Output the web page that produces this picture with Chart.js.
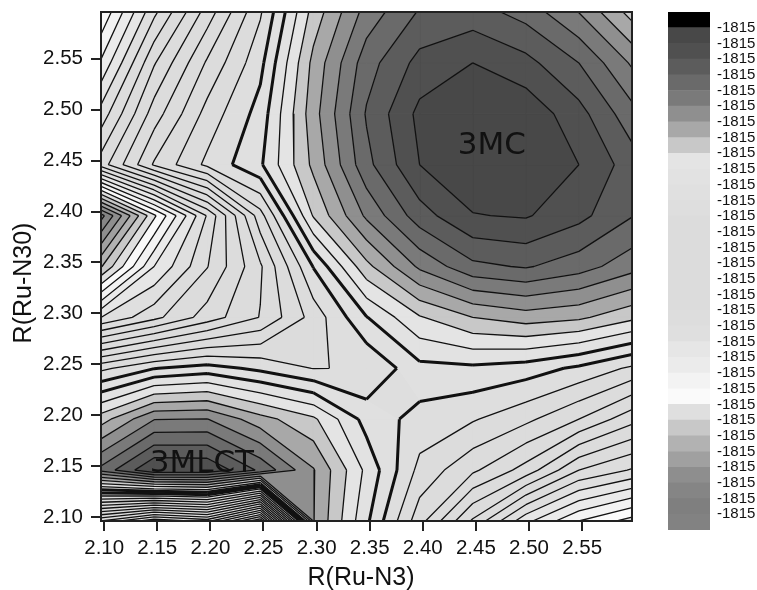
<!DOCTYPE html>
<html>
<head>
<meta charset="utf-8">
<title>R(Ru-N3) / R(Ru-N30) contour map</title>
<script src="https://cdn.jsdelivr.net/npm/chart.js@4/dist/chart.umd.min.js"></script>
<style>
	html, body { margin: 0; padding: 0; background: #fff; }
	#map { position: absolute; left: 0; top: 0; }
	#bar { position: absolute; left: 650px; top: 0; }
</style>
</head>
<body>
<canvas id="map" width="650" height="590"></canvas>
<canvas id="bar" width="107" height="590"></canvas>
<script>
// Grid nodes of the scan
const gridX = [2.097, 2.147, 2.197, 2.247, 2.297, 2.347, 2.397, 2.447, 2.497, 2.547, 2.597]
const gridY = [2.596, 2.546, 2.496, 2.446, 2.396, 2.346, 2.296, 2.246, 2.196, 2.146, 2.096]

// Height at each node, counted in contour levels (rows from the top of the plot)
const row0 = [8.1, 12.75, 16.45, 19.87, 24.4, 27.4, 29.1, 29.44, 28.6, 26.97, 24.6]
const row1 = [10.15, 14.9, 18.15, 20.7, 25.3, 28.56, 30.34, 31, 30.33, 29, 26.85]
const row2 = [12.4, 16.5, 19.37, 21.4, 25.6, 29.1, 31.27, 31.7, 31.7, 30.37, 28.35]
const row3 = [14.5, 18.13, 20.24, 21.85, 25.25, 28.7, 31, 31.8, 31.8, 31, 29.5]
const row4 = [1.6, 7.8, 13.1, 18.6, 24.1, 27.2, 29.55, 30.95, 31.1, 30.3, 29.05]
const row5 = [5.9, 11, 13.95, 16.85, 21.05, 24.7, 27.2, 28.75, 29.1, 28.45, 27.4]
const row6 = [12, 13.7, 15.46, 17.05, 19.4, 21.95, 23.9, 25, 25.5, 25.2, 24.25]
const row7 = [19.75, 20.96, 21.43, 20.75, 19.97, 20.07, 21.7, 21.8, 21.5, 20.8, 19.8]
const row8 = [24.55, 26.96, 27.03, 25.4, 24.2, 21.6, 20.63, 20.1, 19.25, 18, 16.35]
const row9 = [28.3, 30.98, 30.9, 28.8, 26.08, 22.75, 19.7, 18.2, 16.6, 14, 12.9]
const row10 = [12, 9.25, 10.4, 5, 26.05, 22.2, 18.4, 14.85, 11.3, 9, 7.6]
const heights = [row0, row1, row2, row3, row4, row5, row6, row7, row8, row9, row10]

// Band colours, lowest level first
const bandColors = [
	'#828282', '#7f7f7f', '#858585', '#8e8e8e', '#a0a0a0', '#b2b2b2', '#c8c8c8', '#dfdfdf',
	'#fafafa', '#f3f3f3', '#ebebeb', '#e6e6e6', '#dfdfdf', '#dddddd', '#dcdcdc', '#dcdcdc',
	'#dcdcdc', '#dcdcdc', '#dcdcdc', '#dcdcdc', '#dedede', '#e0e0e0', '#e2e2e2', '#e4e4e4',
	'#c8c8c8', '#a8a8a8', '#8f8f8f', '#7a7a7a', '#6a6a6a', '#5c5c5c', '#505050', '#484848',
	'#000000',
]
const thickLevels = [21, 22]
const colorbarLabels = Array(32).fill('-1815')

const xTicks = [2.10, 2.15, 2.20, 2.25, 2.30, 2.35, 2.40, 2.45, 2.50, 2.55]
const yTicks = [2.10, 2.15, 2.20, 2.25, 2.30, 2.35, 2.40, 2.45, 2.50, 2.55]

const notes = [
	{ text: '3MC', x: 2.465, y: 2.4645 },
	{ text: '3MLCT', x: 2.192, y: 2.152 },
]
const xTitle = 'R(Ru-N3)'
const yTitle = 'R(Ru-N30)'

const lerp = (a, b, t) => a + (b - a) * t

// Clip a polygon of {x, y, z} to z >= level (sign 1) or z <= level (sign -1)
function clip(poly, level, sign) {
	const out = []
	poly.forEach((p, i) => {
		const q = poly[(i + 1) % poly.length]
		const pIn = (p.z - level) * sign >= 0
		const qIn = (q.z - level) * sign >= 0
		if (pIn) out.push(p)
		if (pIn !== qIn) {
			const t = (level - p.z) / (q.z - p.z)
			out.push({ x: lerp(p.x, q.x, t), y: lerp(p.y, q.y, t), z: level })
		}
	})
	return out
}

function cellCorners(r, c) {
	return [
		{ x: gridX[c], y: gridY[r], z: heights[r][c] },
		{ x: gridX[c + 1], y: gridY[r], z: heights[r][c + 1] },
		{ x: gridX[c + 1], y: gridY[r + 1], z: heights[r + 1][c + 1] },
		{ x: gridX[c], y: gridY[r + 1], z: heights[r + 1][c] },
	]
}

// Where one contour level cuts one cell: 0, 1 or 2 segments
function cellSegments(corners, level) {
	const hits = []
	corners.forEach((p, i) => {
		const q = corners[(i + 1) % 4]
		if ((p.z >= level) !== (q.z >= level)) {
			const t = (level - p.z) / (q.z - p.z)
			hits.push({ x: lerp(p.x, q.x, t), y: lerp(p.y, q.y, t) })
		}
	})
	if (hits.length === 2) return [[hits[0], hits[1]]]
	if (hits.length === 4) {
		const mean = corners.reduce((s, p) => s + p.z, 0) / 4
		const firstHigh = corners[0].z >= level
		if ((mean >= level) === firstHigh) return [[hits[0], hits[1]], [hits[2], hits[3]]]
		return [[hits[3], hits[0]], [hits[1], hits[2]]]
	}
	return []
}

const datasets = []

// Filled bands, one polygon per cell and band
for (let r = 0; r < gridY.length - 1; r += 1) {
	for (let c = 0; c < gridX.length - 1; c += 1) {
		const corners = cellCorners(r, c)
		const zs = corners.map((p) => p.z)
		const low = Math.floor(Math.min(...zs))
		const high = Math.floor(Math.max(...zs))
		for (let b = low; b <= high; b += 1) {
			const poly = clip(clip(corners, b, 1), b + 1, -1)
			if (poly.length > 2) {
				const points = poly.map((p) => ({ x: p.x, y: p.y }))
				points.push(points[0])
				datasets.push({
					data: points,
					showLine: true,
					fill: 'shape',
					backgroundColor: bandColors[b],
					borderColor: bandColors[b],
					borderWidth: 1,
					pointRadius: 0,
					tension: 0,
					order: 1,
				})
			}
		}
	}
}

// Contour lines, one dataset per level with gaps between the pieces
for (let level = 1; level < bandColors.length; level += 1) {
	const points = []
	for (let r = 0; r < gridY.length - 1; r += 1) {
		for (let c = 0; c < gridX.length - 1; c += 1) {
			cellSegments(cellCorners(r, c), level).forEach((seg) => {
				points.push(seg[0], seg[1], { x: null, y: null })
			})
		}
	}
	if (points.length) {
		datasets.push({
			data: points,
			showLine: true,
			fill: false,
			spanGaps: false,
			borderColor: '#111',
			borderWidth: thickLevels.includes(level) ? 3 : 1.3,
			pointRadius: 0,
			tension: 0,
			order: 0,
		})
	}
}

// Frame, peak names and axis titles (the y title sits off centre in the original)
const frameAndNotes = {
	id: 'frameAndNotes',
	afterDatasetsDraw(chart) {
		const { ctx, chartArea: area, scales } = chart
		ctx.save()
		ctx.strokeStyle = '#222'
		ctx.lineWidth = 2
		ctx.strokeRect(area.left, area.top, area.right - area.left, area.bottom - area.top)
		ctx.fillStyle = '#111'
		ctx.font = '31px "DejaVu Sans"'
		ctx.textAlign = 'center'
		ctx.textBaseline = 'middle'
		notes.forEach((n) => {
			ctx.fillText(n.text, scales.x.getPixelForValue(n.x), scales.y.getPixelForValue(n.y))
		})
		ctx.font = '25px "Liberation Sans"'
		ctx.fillText(xTitle, 361, 578)
		ctx.translate(24, 283)
		ctx.rotate(-Math.PI / 2)
		ctx.fillText(yTitle, 0, 0)
		ctx.restore()
	},
}

const axisFont = { family: '"Liberation Sans"', size: 20.5 }
const axisTick = { color: '#222', lineWidth: 2, drawOnChartArea: false, tickLength: 10 }

new Chart(document.getElementById('map'), {
	type: 'scatter',
	data: { datasets },
	plugins: [frameAndNotes],
	options: {
		responsive: false,
		animation: false,
		layout: { padding: { top: 12, right: 18, bottom: 0, left: 0 } },
		plugins: { legend: { display: false }, tooltip: { enabled: false } },
		scales: {
			x: {
				type: 'linear',
				min: 2.097,
				max: 2.597,
				afterFit: (s) => {
					s.height = 69
					s.paddingLeft = 0
					s.paddingRight = 0
				},
				afterBuildTicks: (s) => { s.ticks = xTicks.map((value) => ({ value })) },
				grid: axisTick,
				border: { display: false },
				ticks: { color: '#111', font: axisFont, padding: 5, maxRotation: 0, callback: (v) => v.toFixed(2) },
			},
			y: {
				type: 'linear',
				min: 2.096,
				max: 2.596,
				afterFit: (s) => {
					s.width = 101
					s.paddingTop = 0
					s.paddingBottom = 0
				},
				afterBuildTicks: (s) => { s.ticks = yTicks.map((value) => ({ value })) },
				grid: axisTick,
				border: { display: false },
				ticks: { color: '#111', font: axisFont, padding: 8, callback: (v) => v.toFixed(2) },
			},
		},
	},
})

// Colour scale, one stacked segment per band
new Chart(document.getElementById('bar'), {
	type: 'bar',
	data: {
		labels: [''],
		datasets: bandColors.map((color) => ({
			data: [1],
			backgroundColor: color,
			barPercentage: 1,
			categoryPercentage: 1,
		})),
	},
	options: {
		responsive: false,
		animation: false,
		layout: { padding: { top: 12, right: 0, bottom: 60, left: 18 } },
		plugins: { legend: { display: false }, tooltip: { enabled: false } },
		scales: {
			x: { stacked: true, display: false },
			y: {
				stacked: true,
				position: 'right',
				min: 0,
				max: bandColors.length,
				afterFit: (s) => {
					s.width = 47
					s.paddingTop = 0
					s.paddingBottom = 0
				},
				afterBuildTicks: (s) => { s.ticks = colorbarLabels.map((label, i) => ({ value: i + 1 })) },
				grid: { display: false, drawTicks: false },
				border: { display: false },
				ticks: {
					color: '#111',
					font: { family: '"Liberation Sans"', size: 15 },
					padding: 7,
					autoSkip: false,
					callback: (v) => colorbarLabels[v - 1],
				},
			},
		},
	},
})
</script>
</body>
</html>
